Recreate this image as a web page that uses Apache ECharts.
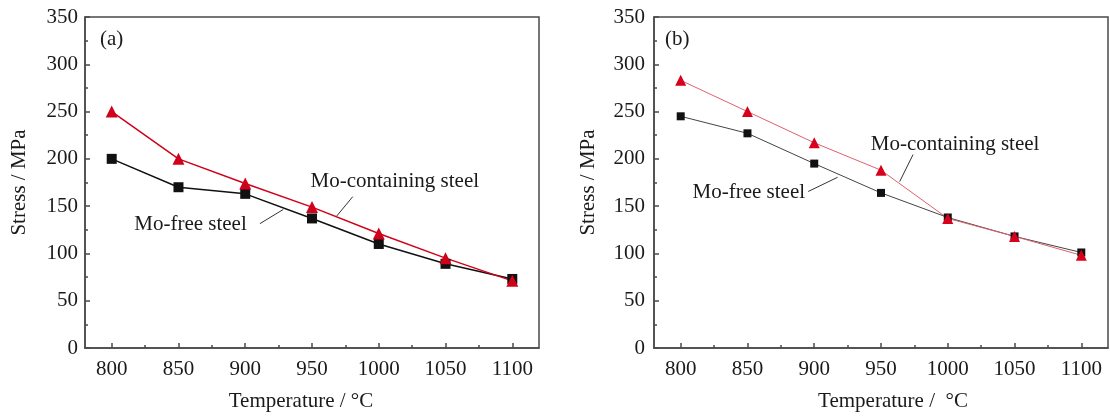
<!DOCTYPE html>
<html><head><meta charset="utf-8">
<script src="https://cdn.jsdelivr.net/npm/echarts@6/dist/echarts.min.js"></script>
<style>html,body{margin:0;padding:0;background:#fff}#c{width:1110px;height:417px}</style>
</head><body><div id="c"></div>
<script>
// ---- data ----
const temps = [800, 850, 900, 950, 1000, 1050, 1100];
const xMajorTicks = [800, 850, 900, 950, 1000, 1050, 1100];
const xMinorTicks = [825, 875, 925, 975, 1025, 1075];
const aMoFree = [200, 170, 163, 137, 110, 89, 73];
const aMoCont = [250, 200, 174, 149, 121, 95, 71];
const bMoFree = [245, 227, 195, 164, 138, 118, 101];
const bMoCont = [283, 250, 217, 188, 137, 118, 98];
const panelLabels = ['(a)', '(b)'];
const yTitle = 'Stress / MPa';
const xTitles = ['Temperature / °C', 'Temperature /  °C'];
const seriesNames = ['Mo-free steel', 'Mo-containing steel'];

const pair = (xs, ys) => xs.map((x, i) => [x, ys[i]]);
const FONT = '"Liberation Serif", "DejaVu Serif", serif';
const AX = '#4a4a4a';
const TXT = '#1a1a1a';
const FS = 21;

const chart = echarts.init(document.getElementById('c'));

function grid(left) {
  return { left: left, top: 17, width: 454, height: 332, show: true, borderColor: AX, borderWidth: 1.5, backgroundColor: 'transparent' };
}
function xMain(gi, title, pad) {
  return {
    type: 'value', gridIndex: gi, position: 'bottom', min: 780, max: 1120,
    name: title, nameLocation: 'middle', nameGap: 43,
    nameTextStyle: { fontFamily: FONT, fontSize: FS, color: TXT, padding: pad },
    axisLine: { show: true, lineStyle: { color: AX, width: 1.5 } },
    axisTick: { show: true, inside: true, length: 5, customValues: xMajorTicks, lineStyle: { color: AX, width: 1.5 } },
    axisLabel: { show: true, customValues: xMajorTicks, formatter: v => String(v), margin: 11, fontFamily: FONT, fontSize: FS, color: TXT },
    splitLine: { show: false }
  };
}
function xMinor(gi) {
  return {
    type: 'value', gridIndex: gi, position: 'bottom', min: 780, max: 1120,
    axisLine: { show: false },
    axisTick: { show: true, inside: true, length: 3, customValues: xMinorTicks, lineStyle: { color: AX, width: 1.5 } },
    axisLabel: { show: false }, splitLine: { show: false }
  };
}
function yMain(gi, margin) {
  return {
    type: 'value', gridIndex: gi, min: 0, max: 350, interval: 50,
    name: yTitle, nameLocation: 'middle', nameGap: 55,
    nameTextStyle: { fontFamily: FONT, fontSize: FS, color: TXT },
    axisLine: { show: true, lineStyle: { color: AX, width: 1.5 } },
    axisTick: { show: true, inside: true, length: 5, lineStyle: { color: AX, width: 1.5 } },
    minorTick: { show: true, splitNumber: 2, length: 3, lineStyle: { color: AX, width: 1.5 } },
    axisLabel: { margin: margin, formatter: v => String(v), fontFamily: FONT, fontSize: FS, color: TXT },
    splitLine: { show: false }, minorSplitLine: { show: false }
  };
}
function annot(text, coord) {
  return { coord: coord, symbol: 'circle', symbolSize: 0,
    label: { show: true, position: 'inside', formatter: text, fontFamily: FONT, fontSize: FS, color: TXT } };
}
function leader(p1, p2) {
  return [{ coord: p1 }, { coord: p2 }];
}
const mlBase = { silent: true, symbol: 'none', animation: false, label: { show: false },
  lineStyle: { color: '#333', width: 1, type: 'solid' } };

chart.setOption({
  animation: false,
  backgroundColor: '#fff',
  grid: [grid(85), grid(654)],
  xAxis: [xMain(0, xTitles[0], [0, 22, 0, 0]), xMinor(0), xMain(1, xTitles[1], [0, 0, 0, 24]), xMinor(1)],
  yAxis: [yMain(0, 7), yMain(1, 9)],
  graphic: [
    { type: 'text', left: 100, top: 29, style: { text: panelLabels[0], fontFamily: FONT, fontSize: FS, fill: TXT } },
    { type: 'text', left: 665, top: 29, style: { text: panelLabels[1], fontFamily: FONT, fontSize: FS, fill: TXT } }
  ],
  series: [
    { name: seriesNames[0], type: 'line', xAxisIndex: 0, yAxisIndex: 0, data: pair(temps, aMoFree),
      symbol: 'rect', symbolSize: 10, itemStyle: { color: '#111' }, lineStyle: { color: '#111', width: 1.5 },
      markPoint: { silent: true, animation: false, data: [annot(seriesNames[0], [859, 131])] },
      markLine: Object.assign({}, mlBase, { data: [leader([911, 131.5], [928.5, 146.5])] }) },
    { name: seriesNames[1], type: 'line', xAxisIndex: 0, yAxisIndex: 0, data: pair(temps, aMoCont),
      symbol: 'triangle', symbolSize: 12, itemStyle: { color: '#d0021b' }, lineStyle: { color: '#d0021b', width: 1.5 },
      markPoint: { silent: true, animation: false, data: [annot(seriesNames[1], [1012, 176])] },
      markLine: Object.assign({}, mlBase, { data: [leader([980.5, 160], [968.5, 139.5])] }) },
    { name: seriesNames[0], type: 'line', xAxisIndex: 2, yAxisIndex: 1, data: pair(temps, bMoFree),
      symbol: 'rect', symbolSize: 8, itemStyle: { color: '#111' }, lineStyle: { color: '#444', width: 1 },
      markPoint: { silent: true, animation: false, data: [annot(seriesNames[0], [851, 164.5])] },
      markLine: Object.assign({}, mlBase, { data: [leader([895.5, 165.5], [917.5, 180.5])] }) },
    { name: seriesNames[1], type: 'line', xAxisIndex: 2, yAxisIndex: 1, data: pair(temps, bMoCont),
      symbol: 'triangle', symbolSize: 11, itemStyle: { color: '#d8001c' }, lineStyle: { color: '#e06070', width: 1 },
      markPoint: { silent: true, animation: false, data: [annot(seriesNames[1], [1005.5, 215])] },
      markLine: Object.assign({}, mlBase, { data: [leader([974, 204.5], [964, 176])] }) }
  ]
});
</script></body></html>
